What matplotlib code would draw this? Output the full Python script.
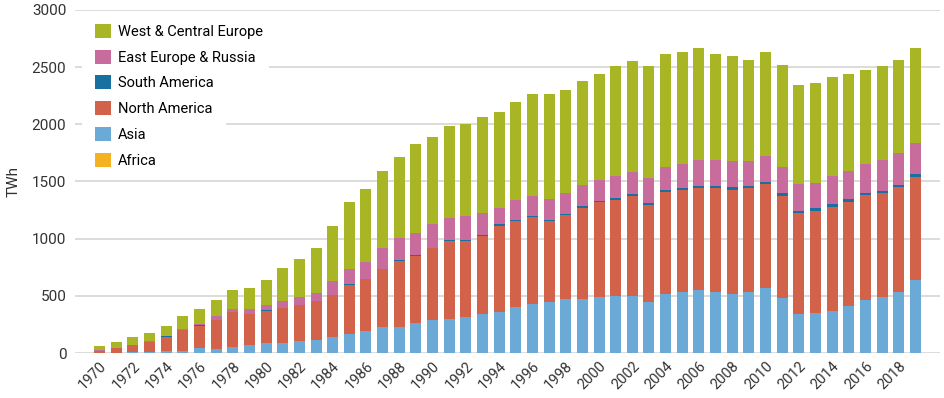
import numpy as np
import matplotlib.pyplot as plt
from matplotlib.patches import Rectangle

plt.rcParams['font.family'] = ['Roboto', 'DejaVu Sans']

years = list(range(1970, 2020))

africa = [0] * 50
asia = [2, 3, 6, 10, 15, 18, 45, 35, 52, 67,
        85, 90, 102, 113, 142, 166, 195, 230, 224, 259,
        288, 299, 317, 340, 360, 400, 429, 449, 473, 473,
        493, 499, 502, 443, 516, 534, 554, 531, 519, 537,
        566, 478, 341, 347, 370, 411, 464, 493, 537, 639]
north_america = [20, 38, 62, 85, 129, 183, 194, 254, 304, 275,
                 286, 301, 320, 338, 362, 433, 453, 505, 584, 593,
                 628, 683, 665, 686, 755, 755, 758, 704, 735, 799,
                 824, 839, 870, 853, 891, 891, 886, 911, 910, 904,
                 912, 898, 880, 899, 910, 913, 916, 907, 911, 903]
south_america = [0, 0, 0, 0, 1, 2, 2, 2, 3, 2,
                 2, 3, 2, 2, 2, 3, 3, 3, 3, 3,
                 3, 3, 3, 3, 10, 9, 9, 11, 11, 11,
                 11, 20, 19, 20, 19, 16, 21, 19, 21, 20,
                 21, 21, 22, 20, 21, 21, 23, 21, 22, 24]
east_europe = [2, 3, 5, 7, 8, 10, 15, 32, 29, 44,
               44, 58, 70, 76, 122, 131, 146, 184, 198, 194,
               206, 198, 216, 198, 142, 175, 178, 181, 184, 184,
               186, 193, 193, 212, 205, 213, 228, 228, 233, 222,
               225, 234, 236, 225, 248, 245, 251, 268, 277, 269]
west_europe = [34, 52, 70, 70, 86, 111, 126, 143, 166, 183,
               218, 294, 326, 390, 485, 590, 639, 674, 709, 777,
               762, 800, 799, 837, 838, 852, 892, 916, 893, 914,
               930, 960, 968, 978, 986, 974, 974, 922, 916, 875,
               904, 886, 866, 869, 863, 851, 823, 817, 814, 828]

series = [
    ('Africa', africa, '#f4b223'),
    ('Asia', asia, '#6baad6'),
    ('North America', north_america, '#d2634a'),
    ('South America', south_america, '#17709f'),
    ('East Europe & Russia', east_europe, '#c76c9c'),
    ('West & Central Europe', west_europe, '#a8b626'),
]

fig = plt.figure(figsize=(9.45, 3.98), dpi=100)
ax = fig.add_axes([0.079, 0.113, 0.916, 0.862])

x = np.arange(len(years))
bottom = np.zeros(len(years))
handles = []
for name, vals, color in series:
    h = ax.bar(x, vals, bottom=bottom, width=0.66, color=color, label=name, zorder=3)
    handles.append(h)
    bottom += np.array(vals)

ax.set_ylim(0, 3000)
ax.set_xlim(-1.5, 50.5)
ax.set_yticks(range(0, 3001, 500))
ax.set_xticks(x[::2])
ax.set_xticklabels([str(y) for y in years[::2]], rotation=45, ha='right',
                   rotation_mode='anchor')
ax.tick_params(axis='x', length=0, labelsize=10.5, colors='#333333', pad=4)
ax.tick_params(axis='y', length=0, labelsize=11, colors='#333333', pad=6)
ax.grid(axis='y', color='#d9d9d9', linewidth=1.3, zorder=0)
for s in ax.spines.values():
    s.set_visible(False)
ax.set_ylabel('TWh', fontsize=11, color='#333333', labelpad=8)

leg = ax.legend(handles[::-1], [s[0] for s in series][::-1], loc='upper left',
                bbox_to_anchor=(0.01, 0.994), frameon=False, fontsize=10.5,
                handlelength=1.1, handleheight=1.1, labelspacing=0.75,
                handletextpad=0.5, borderpad=0.3)
leg.set_zorder(5)

# white background behind each legend row (hides the gridlines there)
fig.canvas.draw()
r = fig.canvas.get_renderer()
W, H = fig.bbox.width, fig.bbox.height
x0 = 82
for t in leg.get_texts():
    bb = t.get_window_extent(r)
    cy = (bb.y0 + bb.y1) / 2
    rect = Rectangle((x0 / W, (cy - 17) / H), (bb.x1 + 13 - x0) / W, 27 / H,
                     transform=fig.transFigure, facecolor='white',
                     edgecolor='none', zorder=4, clip_on=False)
    ax.add_patch(rect)
ax.set_xlim(-1.5, 50.5)
ax.set_ylim(0, 3000)

fig.savefig('out.png', dpi=100)
